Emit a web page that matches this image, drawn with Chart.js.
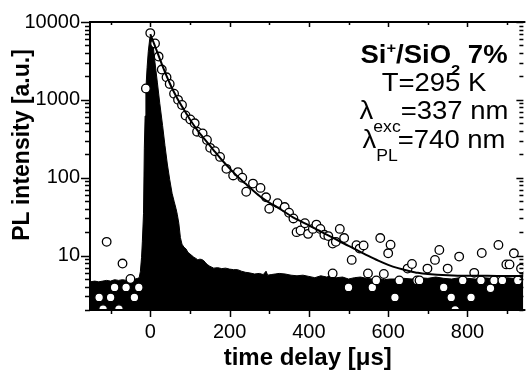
<!DOCTYPE html>
<html>
<head>
<meta charset="utf-8">
<script src="https://cdn.jsdelivr.net/npm/chart.js@4/dist/chart.umd.min.js"></script>
<style>
  html, body { margin: 0; padding: 0; background: #fff; overflow: hidden; }
  #wrap { width: 529px; height: 376px; position: relative; }
</style>
</head>
<body>
<div id="wrap"><canvas id="c" width="529" height="376"></canvas></div>
<script>
// ---------- data ----------
// x tick labels (time delay, µs) and y tick labels (PL intensity, decades)
const xTickLabels = [0, 200, 400, 600, 800];
const xMinorTicks = [-100, 100, 300, 500, 700, 900];
const yTickLabels = [10, 100, 1000, 10000];

// measured PL decay (open circles)
const pointT = [-129,-119,-110,-100,-90,-79,-70,-61,-50,-40,-29,-11,
  0,12,21,29,41,49,60,70,80,89,101,112,118,132,143,151,163,176,192,209,221,232,242,259,278,292,300,
  321,339,350,361,369,379,390,398,410,419,429,439,449,460,460,468,478,489,500,508,520,528,538,549,560,
  570,580,589,600,606,617,628,649,660,673,679,699,718,729,740,750,759,769,779,788,809,817,834,836,858,
  867,878,888,898,906,917,927,935];
const pointV = [2.9,2.05,15,2.9,3.9,2.05,7.9,3.9,5.0,2.9,3.9,1400,
  7200,5300,3600,2450,1950,1600,1200,1000,860,630,560,500,390,370,306,242,219,185,130,107,118,100,66,84,74,56,40,
  47,42,35.5,30,20,21,26,19,22,25,22,18.5,17.8,14.3,5.9,15,22,16.8,3.9,8.8,13.6,12.3,13.5,5.9,3.9,
  4.8,16.8,5.8,10.7,13.8,2.9,4.8,6.8,7.8,4.8,4.8,6.8,8.8,11.8,3.9,6.8,2.9,2.0,9.7,4.8,2.9,6.0,4.8,10.8,3.8,
  4.8,13.7,4.8,7.7,7.7,10.7,4.8,6.8];

// fitted decay curve (solid line)
const fitT = [0,10,20,30,40,50,60,70,80,90,100,120,140,160,180,200,220,240,260,280,300,320,340,360,380,400,
  425,450,475,500,525,550,575,600,625,650,675,700,750,800,850,900,941];
const fitV = [7000,5200,3800,2800,2100,1600,1250,1000,820,680,560,400,300,225,170,132,104,84,68,56,48,42,36,31,27.5,24.5,
  21,18,15.5,13.3,11.5,9.9,8.6,7.6,6.9,6.4,6.0,5.8,5.6,5.5,5.5,5.45,5.45];

// fast (instrument-limited) response, filled black
const respT = [-152,-140,-130,-120,-110,-100,-90,-80,-70,-60,-50,-44,-38,-32,-28,-25,-22,-20,-17,-15,-13,-11,-8,-5,-1,2,6,12,18,24,31,37,43,49,55,60,65,68,72,76,80,85,90,95,100,105,110,115,120,125,130,135,140,145,150,160,170,180,190,200,210,220,230,240,250,263,275,285,292,296,305,315,325,340,355,370,385,400,415,430,445,455,470,485,500,515,530,545,560,575,590,605,620,640,660,680,700,720,740,760,780,800,820,840,860,880,900,915,930,941];
const respV = [4.6,4.7,4.6,4.7,4.8,4.7,4.9,4.8,4.9,4.8,5.1,4.9,5.0,5.1,5.2,6.2,9.5,15,35,240,620,1400,2600,4200,6300,6600,5700,3000,1650,900,470,260,150,95,63,50,40,34,26,17,14,12.8,12.2,11,10.5,10,9.5,9.2,8.8,9.0,8.9,8.6,8.0,7.6,7.3,6.9,7.0,6.8,6.9,6.7,6.6,6.6,6.3,6.1,6.0,5.8,5.9,5.7,6.3,5.6,5.7,5.8,5.9,5.8,5.6,5.5,5.6,5.4,5.2,5.5,5.3,5.5,5.2,5.3,5.0,5.2,5.3,5.1,5.0,5.1,4.9,5.0,5.0,5.1,5.0,5.2,5.1,5.3,5.1,5.0,5.2,5.1,5.0,5.2,5.1,5.0,5.2,5.1,5.5,5.7];

const xTitle = 'time delay [\u03BCs]';
const yTitle = 'PL intensity [a.u.]';

// ---------- chart ----------
const FONT = '"Liberation Sans", Arial, Helvetica, sans-serif';
const zip = (a, b) => a.map((v, i) => ({ x: v, y: b[i] }));

function drawRich(ctx, parts, cx, base, sx) {
  let w = 0;
  for (const p of parts) { ctx.font = p.f; p.w = ctx.measureText(p.t).width; w += p.w; }
  ctx.save();
  ctx.translate(cx, base);
  ctx.scale(sx, 1);
  let x = -w / 2;
  ctx.textAlign = 'left';
  ctx.textBaseline = 'alphabetic';
  for (const p of parts) { ctx.font = p.f; ctx.fillText(p.t, x, p.dy || 0); x += p.w; }
  ctx.restore();
}

const framePlugin = {
  id: 'frame',
  afterDraw(chart) {
    const { ctx, chartArea: a, scales: { x, y } } = chart;
    ctx.save();
    ctx.strokeStyle = '#000';
    ctx.fillStyle = '#000';
    // axis lines
    ctx.lineWidth = 2;
    ctx.beginPath();
    ctx.moveTo(a.left, a.bottom + 1); ctx.lineTo(a.left, a.top);
    ctx.lineTo(a.right + 2, a.top);
    ctx.moveTo(a.left - 1, a.bottom); ctx.lineTo(a.right + 2, a.bottom);
    ctx.stroke();
    // x ticks: bottom outward, top inward
    ctx.lineWidth = 1.5;
    ctx.beginPath();
    for (const v of xTickLabels) {
      const px = Math.round(x.getPixelForValue(v)) + 0.5;
      ctx.moveTo(px, a.bottom); ctx.lineTo(px, a.bottom + 7);
      ctx.moveTo(px, a.top); ctx.lineTo(px, a.top + 5);
    }
    for (const v of xMinorTicks) {
      const px = Math.round(x.getPixelForValue(v)) + 0.5;
      ctx.moveTo(px, a.bottom); ctx.lineTo(px, a.bottom + 4);
      ctx.moveTo(px, a.top); ctx.lineTo(px, a.top + 3);
    }
    ctx.stroke();
    // y ticks: left outward, right inward
    ctx.beginPath();
    for (const v of yTickLabels) {
      const py = Math.round(y.getPixelForValue(v)) + 0.5;
      ctx.moveTo(a.left, py); ctx.lineTo(a.left - 9, py);
      ctx.moveTo(a.right, py); ctx.lineTo(a.right - 7, py);
    }
    for (let d = 1; d < 10000; d *= 10) {
      for (let m = 2; m <= 9; m++) {
        const v = m * d;
        if (v < y.min || v > y.max) continue;
        const py = Math.round(y.getPixelForValue(v)) + 0.5;
        ctx.moveTo(a.left, py); ctx.lineTo(a.left - 5, py);
        ctx.moveTo(a.right, py); ctx.lineTo(a.right - 4, py);
      }
    }
    ctx.stroke();

    // axis titles
    ctx.textAlign = 'center';
    ctx.textBaseline = 'alphabetic';
    ctx.font = 'bold 24px ' + FONT;
    ctx.fillText(xTitle, (a.left + a.right) / 2 + 1, 365);
    ctx.save();
    ctx.translate(29, 145);
    ctx.rotate(-Math.PI / 2);
    ctx.font = 'bold 23px ' + FONT;
    ctx.fillText(yTitle, 0, 0);
    ctx.restore();

    // annotation
    const B = 'bold 25px ' + FONT, Bs = 'bold 15px ' + FONT;
    const N = '25px ' + FONT, Ns = '16px ' + FONT;
    const cx = 434, sx = 1.1;
    drawRich(ctx, [{t:'Si', f:B}, {t:'+', f:Bs, dy:-10}, {t:'/SiO', f:B}, {t:'2', f:Bs, dy:12}, {t:' 7%', f:B}], cx, 63, sx);
    drawRich(ctx, [{t:'T=295 K', f:N}], cx, 91, sx);
    drawRich(ctx, [{t:'\u03BB', f:N}, {t:'exc', f:Ns, dy:13}, {t:'=337 nm', f:N}], cx, 119, sx);
    drawRich(ctx, [{t:'\u03BB', f:N}, {t:'PL', f:Ns, dy:13}, {t:'=740 nm', f:N}], cx, 148, sx);
    ctx.restore();
  }
};

new Chart(document.getElementById('c'), {
  data: {
    datasets: [
      { type: 'line', label: 'fit', data: zip(fitT, fitV), borderColor: '#000', borderWidth: 2,
        pointRadius: 0, fill: false, tension: 0.3, order: 0 },
      { type: 'scatter', label: 'PL', data: zip(pointT, pointV), pointRadius: 4.3, pointBorderWidth: 1.3,
        pointBackgroundColor: '#fff', pointBorderColor: '#000', order: 1 },
      { type: 'line', label: 'response', data: zip(respT, respV), borderColor: '#000', borderWidth: 1,
        backgroundColor: '#000', pointRadius: 0, fill: 'start', tension: 0, order: 2 }
    ]
  },
  options: {
    responsive: false,
    animation: false,
    events: [],
    layout: { padding: { top: 14, right: 0, left: 0, bottom: 0 } },
    plugins: { legend: { display: false }, tooltip: { enabled: false } },
    scales: {
      x: {
        type: 'linear', min: -152, max: 941,
        grid: { display: false, drawTicks: false }, border: { display: false },
        afterBuildTicks: s => { s.ticks = xTickLabels.map(v => ({ value: v })); },
        afterFit: s => { s.height = 66; },
        ticks: { color: '#000', font: { family: FONT, size: 20 }, padding: 10, maxRotation: 0, autoSkip: false,
                 callback: v => String(v) }
      },
      y: {
        type: 'logarithmic', min: 2, max: 10000,
        grid: { display: false, drawTicks: false }, border: { display: false },
        afterBuildTicks: s => { s.ticks = yTickLabels.map(v => ({ value: v })); },
        afterFit: s => { s.width = 90; },
        ticks: { color: '#000', font: { family: FONT, size: 20 }, padding: 10, autoSkip: false,
                 callback: v => String(v) }
      }
    }
  },
  plugins: [framePlugin]
});
</script>
</body>
</html>
